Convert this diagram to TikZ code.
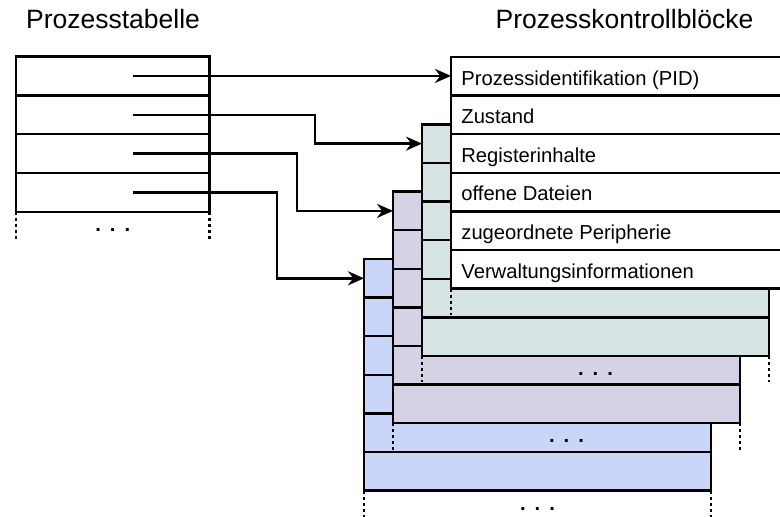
\documentclass[tikz,border=0pt]{standalone}
\usepackage{fontspec}
\setmainfont{Liberation Sans}
\usetikzlibrary{calc,arrows.meta}
\definecolor{pcbgruen}{HTML}{D5E3E2}
\definecolor{pcblila}{HTML}{D6D2E6}
\definecolor{pcbblau}{HTML}{C9D6FA}

\begin{document}
\begin{tikzpicture}[x=0.5pt,y=-0.5pt,
  linie/.style={line width=1.2pt,color=black},
  punkte/.style={line width=1.2pt,dash pattern=on 1.5pt off 1.5pt},
  pfeil/.style={line width=1.2pt,-{Stealth[length=8pt,width=7pt]}},
  eintrag/.style={anchor=base west,inner sep=0pt,font=\fontsize{10.1}{12}\selectfont},
  titel/.style={anchor=base,inner sep=0pt,font=\fontsize{13.25}{16}\selectfont},
  dreipunkt/.style={inner sep=0pt,font=\fontsize{10.1}{12}\selectfont\bfseries}]
\useasboundingbox (0,0) rectangle (780,516);
\clip (0,0) rectangle (780,516);
\node[titel] (tabTitel) at (113,28) {Prozesstabelle};
\node[titel] (pcbTitel) at (624.5,28) {Prozesskontrollblöcke};
\begin{scope}[shift={(16,56.5)}] %Tabelle
  \draw[linie] (0,0) rectangle (193.5,155.2);
  \foreach \r in {1,2,3} \draw[linie] (0,\r*38.8) -- (193.5,\r*38.8);
  \draw[punkte] (0,155.2) -- (0,182) (193.5,155.2) -- (193.5,182);
  \node[dreipunkt] (tabDots) at (96.75,173.5) {.\hspace{4.5pt}.\hspace{4.5pt}.};
  \coordinate (p1) at (117,19.4);
  \coordinate (p2) at (117,58.2);
  \coordinate (p3) at (117,97);
  \coordinate (p4) at (117,135.8);
\end{scope}
\begin{scope}[shift={(364,259)}] %blau
  \fill[pcbblau] (0,0) rectangle (347,231.6);
  \draw[linie] (0,0) rectangle (347,231.6);
  \foreach \r in {1,...,5} \draw[linie] (0,\r*38.6) -- (347,\r*38.6);
  \draw[punkte] (0,231.6) -- (0,258) (347,231.6) -- (347,258);
  \node[dreipunkt] (blauDots) at (173.5,249.6) {.\hspace{4.5pt}.\hspace{4.5pt}.};
  \coordinate (blauIn) at (0,19.3);
\end{scope}
\begin{scope}[shift={(393,191.6)}] %lila
  \fill[pcblila] (0,0) rectangle (347,231.6);
  \draw[linie] (0,0) rectangle (347,231.6);
  \foreach \r in {1,...,5} \draw[linie] (0,\r*38.6) -- (347,\r*38.6);
  \draw[punkte] (0,231.6) -- (0,258) (347,231.6) -- (347,258);
  \node[dreipunkt] (lilaDots) at (173.5,249.6) {.\hspace{4.5pt}.\hspace{4.5pt}.};
  \coordinate (lilaIn) at (0,19.3);
\end{scope}
\begin{scope}[shift={(422,124.3)}] %gruen
  \fill[pcbgruen] (0,0) rectangle (347,231.6);
  \draw[linie] (0,0) rectangle (347,231.6);
  \foreach \r in {1,...,5} \draw[linie] (0,\r*38.6) -- (347,\r*38.6);
  \draw[punkte] (0,231.6) -- (0,258) (347,231.6) -- (347,258);
  \node[dreipunkt] (gruenDots) at (173.5,249.6) {.\hspace{4.5pt}.\hspace{4.5pt}.};
  \coordinate (gruenIn) at (0,19.3);
\end{scope}
\begin{scope}[shift={(451,57)}] %vorne
  \fill[white] (0,0) rectangle (347,231.6);
  \draw[linie] (0,0) rectangle (347,231.6);
  \foreach \r in {1,...,5} \draw[linie] (0,\r*38.6) -- (347,\r*38.6);
  \draw[punkte] (0,231.6) -- (0,258) (347,231.6) -- (347,258);
  \node[eintrag] (pid) at (10,28) {Prozessidentifikation (PID)};
  \node[eintrag] (zustand) at (10,66.6) {Zustand};
  \node[eintrag] (register) at (10,105.2) {Registerinhalte};
  \node[eintrag] (dateien) at (10,143.8) {offene Dateien};
  \node[eintrag] (peripherie) at (10,182.4) {zugeordnete Peripherie};
  \node[eintrag] (verwaltung) at (10,221) {Verwaltungsinformationen};
  \coordinate (vorneIn) at (0,19.3);
\end{scope}
\coordinate (k2) at (315,0);
\coordinate (k3) at (297,0);
\coordinate (k4) at (277,0);
\draw[pfeil] (p1) -- (p1 -| vorneIn);
\draw[pfeil] (p2) -| (k2 |- gruenIn) -- (gruenIn);
\draw[pfeil] (p3) -| (k3 |- lilaIn) -- (lilaIn);
\draw[pfeil] (p4) -| (k4 |- blauIn) -- (blauIn);
\end{tikzpicture}
\end{document}
